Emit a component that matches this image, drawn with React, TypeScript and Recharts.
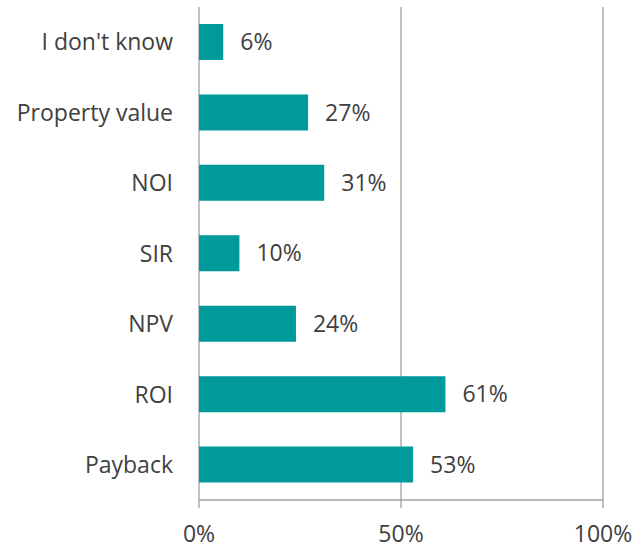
import React from "react";
import {
  BarChart, Bar, XAxis, YAxis, CartesianGrid, LabelList
} from "recharts";

const categories = ["I don't know", "Property value", "NOI", "SIR", "NPV", "ROI", "Payback"];
const shares = [6, 27, 31, 10, 24, 61, 53];
const xTicks = [0, 50, 100];
// category boundaries, used only for the small tick marks on the y axis
const bandEdges = [0, 1, 2, 3, 4, 5, 6, 7];

const COLORS = {
  bar: "#00999C",
  axis: "#A0A0A0",
  text: "#404040"
};

const FONT = "'Open Sans', sans-serif";
const FONT_SIZE = 23;

const data = categories.map((name, i) => ({ name, value: shares[i] }));

const App: React.FC = () => {
  return (
    <div style={{ position: "absolute", left: 0, top: 0, width: 644, height: 548, background: "#fff" }}>
      <BarChart
        width={644}
        height={548}
        data={data}
        layout="vertical"
        margin={{ top: 7, right: 41, left: 0, bottom: 0 }}
        style={{ fontFamily: FONT }}
      >
        <CartesianGrid horizontal={false} stroke={COLORS.axis} strokeWidth={1.3} />
        <XAxis
          type="number"
          domain={[0, 100]}
          ticks={xTicks}
          tickFormatter={(v: number) => `${v}%`}
          height={48}
          tickSize={8}
          tickMargin={18}
          axisLine={{ stroke: COLORS.axis, strokeWidth: 1.3 }}
          tickLine={{ stroke: COLORS.axis, strokeWidth: 1.3 }}
          tick={{ fill: COLORS.text, fontSize: FONT_SIZE, fontFamily: FONT }}
        />
        {/* numeric helper axis: draws the axis line and boundary ticks */}
        <YAxis
          yAxisId={0}
          type="number"
          domain={[0, 7]}
          ticks={bandEdges}
          width={0}
          tickSize={7}
          tickFormatter={() => ""}
          axisLine={{ stroke: COLORS.axis, strokeWidth: 1.3 }}
          tickLine={{ stroke: COLORS.axis, strokeWidth: 1.3 }}
        />
        <YAxis
          yAxisId="cat"
          type="category"
          dataKey="name"
          width={199}
          axisLine={false}
          tickLine={false}
          tickSize={0}
          tickMargin={26}
          interval={0}
          tick={{ fill: COLORS.text, fontSize: FONT_SIZE, fontFamily: FONT }}
        />
        <Bar yAxisId="cat" dataKey="value" fill={COLORS.bar} barSize={36} isAnimationActive={false}>
          <LabelList
            dataKey="value"
            position="right"
            offset={17}
            formatter={(v: number) => `${v}%`}
            fill={COLORS.text}
            fontSize={FONT_SIZE}
            fontFamily={FONT}
          />
        </Bar>
      </BarChart>
    </div>
  );
};

export default App;
